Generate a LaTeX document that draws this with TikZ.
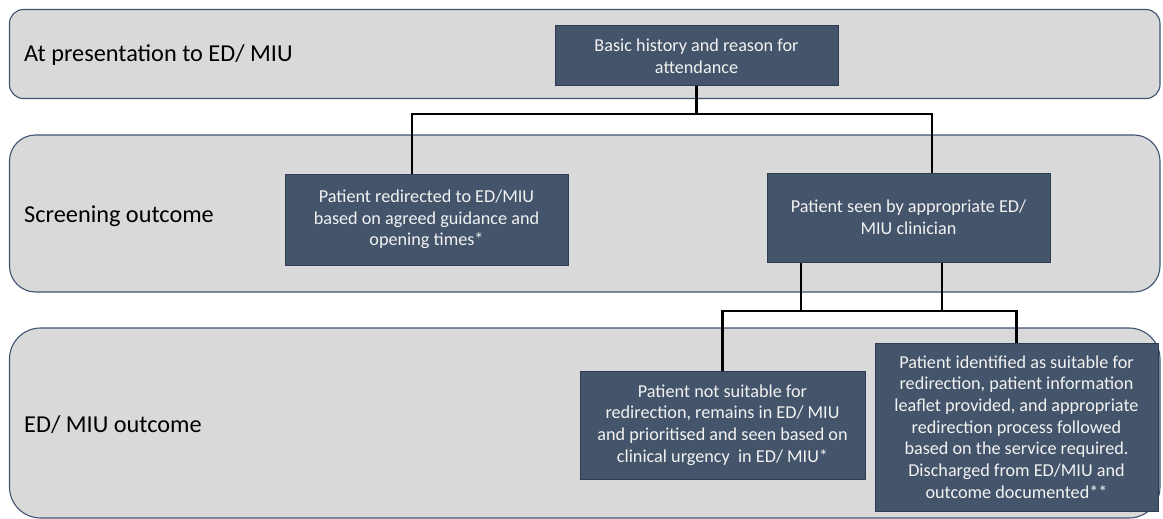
\documentclass[tikz,border=0pt]{standalone}
\usepackage{fontspec}
\setmainfont{Carlito}
\definecolor{bandfill}{HTML}{D9D9D9}
\definecolor{bandline}{HTML}{3F5270}
\definecolor{boxfill}{HTML}{44546A}
\definecolor{boxline}{HTML}{2E3D52}
\definecolor{boxtext}{HTML}{F2F2F2}
\begin{document}
\begin{tikzpicture}[x=1pt,y=-1pt,
  band/.style={draw=bandline, line width=1.1pt, fill=bandfill},
  lbl/.style={anchor=base west, inner sep=0pt, font=\fontsize{24.3}{29}\selectfont, text=black},
  box/.style={draw=boxline, line width=1pt, fill=boxfill, text=boxtext, align=center,
    inner sep=0pt, minimum width=283pt, font=\fontsize{18.2}{21.7}\selectfont},
  conn/.style={draw=black, line width=2.6pt}]
\useasboundingbox (0,0) rectangle (1163,519);
% bands
\draw[band, rounded corners=14pt] (9.5,9.5) rectangle (1160,98.5);
\draw[band, rounded corners=26pt] (9.5,135) rectangle (1160,292);
\draw[band, rounded corners=31pt] (9.5,328) rectangle (1160,518);
% band labels
\node[lbl] (l1) at (24,62) {At presentation to ED/ MIU};
\node[lbl] (l2) at (24,222) {Screening outcome};
\node[lbl] (l3) at (24,432) {ED/ MIU outcome};
% boxes
\node[box, minimum height=60pt] (b1) at (696.5,56) {Basic history and reason for\\attendance};
\node[box, minimum height=91pt] (b2l) at (426.5,219.5) {Patient redirected to ED/MIU\\based on agreed guidance and\\opening times*};
\node[box, minimum height=89pt] (b2r) at (908.5,217.5) {Patient seen by appropriate ED/\\MIU clinician};
\node[box, minimum width=285pt, minimum height=108pt] (b3l) at (722.5,425) {Patient not suitable for\\redirection, remains in ED/ MIU\\and prioritised and seen based on\\clinical urgency\ \ in ED/ MIU*};
\node[box, minimum height=168pt] (b3r) at (1016.5,427) {Patient identified as suitable for\\redirection, patient information\\leaflet provided, and appropriate\\redirection process followed\\based on the service required.\\Discharged from ED/MIU and\\outcome documented**};
% connectors
\coordinate (hub1) at (696.5,114);
\coordinate (t2l) at ([xshift=-14.5pt]b2l.north);
\coordinate (t2r) at ([xshift=23.5pt]b2r.north);
\draw[conn] (b1.south) -- (hub1);
\draw[conn] (t2l) |- (hub1);
\draw[conn] (t2r) |- (hub1);
\coordinate (h2) at (0,311);
\coordinate (s2a) at ([xshift=-107.5pt]b2r.south);
\coordinate (s2b) at ([xshift=33.5pt]b2r.south);
\draw[conn] (b3l.north) |- (b3r.north |- h2) -- (b3r.north);
\draw[conn] (s2a) -- (s2a |- h2);
\draw[conn] (s2b) -- (s2b |- h2);
\end{tikzpicture}
\end{document}
